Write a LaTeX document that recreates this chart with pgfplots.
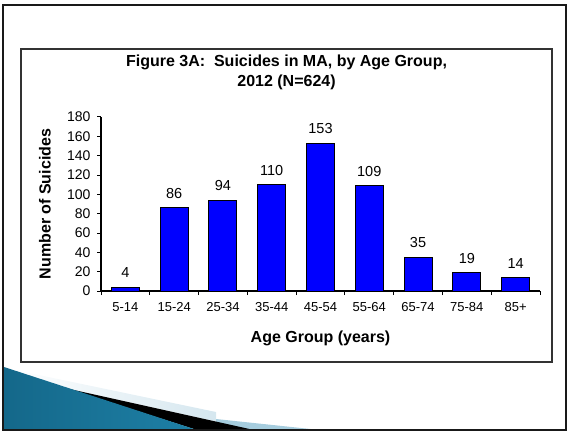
\documentclass[border=0pt]{standalone}
\usepackage{pgfplots}
\pgfplotsset{compat=1.18}
\usepackage{fontspec}
\setmainfont{Liberation Sans}

\definecolor{barblue}{RGB}{0,0,255}
\definecolor{boxgray}{RGB}{50,50,50}
\definecolor{tealdark}{RGB}{20,104,138}
\definecolor{teallight}{RGB}{70,172,212}
\definecolor{tealmid}{RGB}{30,128,166}
\definecolor{paleblue}{RGB}{205,226,236}
\definecolor{lightblue}{RGB}{166,205,222}

\begin{document}
\begin{tikzpicture}[x=1bp,y=1bp]
\useasboundingbox (0,0) rectangle (568,432);

% slide decoration, bottom left
\shade[left color=white, right color=paleblue] (10,63) -- (216,20) -- (216,2) -- (254,2) -- (65,44) -- cycle;
\fill[lightblue] (216,13) -- (320,2) -- (216,2) -- cycle;
\fill[black] (65,44) -- (254,2) -- (197,2) -- cycle;
\shade[left color=tealdark, middle color=teallight, right color=tealmid] (4,65) -- (197,2) -- (4,2) -- cycle;

% chart area frame
\draw[line width=1.2bp, boxgray] (21,70) rectangle (552,383);

% slide frame
\draw[line width=2bp, black!90] (3,2) rectangle (566,427);

\begin{axis}[
  at={(101bp,141bp)}, anchor=south west,
  scale only axis, width=439bp, height=174bp,
  xmin=-0.5, xmax=8.5, ymin=0, ymax=180,
  /pgf/number format/assume math mode=true,
  axis lines*=left,
  axis line style={line width=1.3bp, black},
  tick align=outside,
  tick style={black, line width=1bp},
  major tick length=4bp,
  ytick={0,20,...,180},
  xtick={-0.5,0.5,...,8.5},
  xticklabels={},
  extra x ticks={0,1,2,3,4,5,6,7,8},
  extra x tick labels={5-14,15-24,25-34,35-44,45-54,55-64,65-74,75-84,85+},
  extra x tick style={major tick length=0pt,
    xticklabel style={font=\fontsize{13bp}{15bp}\selectfont, yshift=-8bp}},
  yticklabel style={font=\fontsize{14bp}{16bp}\selectfont, xshift=-3bp},
  ybar, bar width=28bp,
  nodes near coords,
  nodes near coords style={font=\fontsize{14.5bp}{16bp}\selectfont, yshift=5.5bp},
  title={Figure 3A:\ \ Suicides in MA, by Age Group,\\2012\ (N=624)},
  title style={at={(axis description cs:0.4226,1.224)}, anchor=center, align=center,
    font=\bfseries\fontsize{16bp}{20bp}\selectfont},
  xlabel={Age Group (years)},
  xlabel style={at={(axis description cs:0.5,-0.27)}, anchor=center,
    font=\bfseries\fontsize{16bp}{19bp}\selectfont},
  ylabel={Number of Suicides},
  ylabel style={at={(axis description cs:-0.128,0.5)}, anchor=center,
    font=\bfseries\fontsize{16bp}{19bp}\selectfont},
]
\addplot[fill=barblue, draw=black, line width=1bp]
  coordinates {(0,4) (1,86) (2,94) (3,110) (4,153) (5,109) (6,35) (7,19) (8,14)};
\end{axis}
\end{tikzpicture}
\end{document}
